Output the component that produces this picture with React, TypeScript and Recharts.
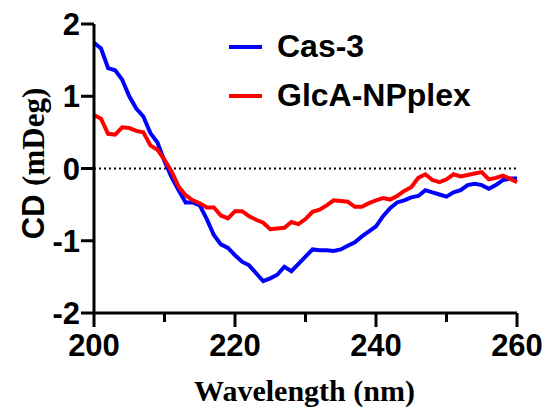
import React from 'react';
import {
  LineChart, Line, XAxis, YAxis, Legend, ReferenceLine, Label,
} from 'recharts';

const wavelengths = [
  200, 201, 202, 203, 204, 205, 206, 207, 208, 209,
  210, 211, 212, 213, 214, 215, 216, 217, 218, 219,
  220, 221, 222, 223, 224, 225, 226, 227, 228, 229,
  230, 231, 232, 233, 234, 235, 236, 237, 238, 239,
  240, 241, 242, 243, 244, 245, 246, 247, 248, 249,
  250, 251, 252, 253, 254, 255, 256, 257, 258, 259, 260,
];

const cas3 = [
  1.74, 1.66, 1.39, 1.36, 1.23, 1.0, 0.83, 0.72, 0.49, 0.36,
  0.1, -0.12, -0.3, -0.47, -0.47, -0.51, -0.7, -0.92, -1.05, -1.1,
  -1.2, -1.29, -1.34, -1.45, -1.56, -1.52, -1.47, -1.36, -1.42, -1.32,
  -1.22, -1.12, -1.13, -1.13, -1.14, -1.12, -1.07, -1.02, -0.94, -0.87,
  -0.8, -0.66, -0.55, -0.47, -0.44, -0.4, -0.38, -0.3, -0.33, -0.36,
  -0.39, -0.33, -0.3, -0.23, -0.21, -0.23, -0.28, -0.23, -0.16, -0.14, -0.14,
];

const glcaNPplex = [
  0.74, 0.69, 0.48, 0.47, 0.57, 0.56, 0.52, 0.5, 0.32, 0.26,
  0.12, -0.04, -0.25, -0.37, -0.44, -0.48, -0.54, -0.54, -0.65, -0.69,
  -0.59, -0.59, -0.66, -0.71, -0.75, -0.84, -0.83, -0.82, -0.74, -0.77,
  -0.7, -0.6, -0.57, -0.51, -0.44, -0.45, -0.46, -0.53, -0.53, -0.48,
  -0.44, -0.41, -0.43, -0.38, -0.31, -0.26, -0.13, -0.08, -0.16, -0.19,
  -0.15, -0.08, -0.11, -0.09, -0.07, -0.05, -0.15, -0.13, -0.1, -0.14, -0.19,
];

const xTicks = [200, 210, 220, 230, 240, 250, 260];
const yTicks = [-2, -1, 0, 1, 2];

const series = [
  { key: 'cas', name: 'Cas-3', color: '#0000FF' },
  { key: 'glca', name: 'GlcA-NPplex', color: '#FF0000' },
];

const data = wavelengths.map((w, i) => ({ w, cas: cas3[i], glca: glcaNPplex[i] }));

const sans = '"Liberation Sans", Arial, sans-serif';
const serif = '"Liberation Serif", "Times New Roman", serif';

const XTick = (props: any) => {
  const { x, y, payload } = props;
  const major = payload.value % 20 === 0;
  return (
    <g>
      <line x1={x} x2={x} y1={y} y2={y + (major ? 14 : 9)} stroke="#000" strokeWidth={3} />
      {major && (
        <text x={x} y={y + 43} textAnchor="middle" fontFamily={sans} fontWeight="bold" fontSize={31} fill="#000">
          {payload.value}
        </text>
      )}
    </g>
  );
};

const YTick = (props: any) => {
  const { x, y, payload } = props;
  return (
    <g>
      <line x1={x - 13} x2={x} y1={y} y2={y} stroke="#000" strokeWidth={3} />
      <text x={x - 14} y={y} dy="0.36em" textAnchor="end" fontFamily={sans} fontWeight="bold" fontSize={31} fill="#000">
        {payload.value}
      </text>
    </g>
  );
};

const renderLegend = () => (
  <div>
    {series.map((s) => (
      <div key={s.key} style={{ display: 'flex', alignItems: 'center', height: 49 }}>
        <span style={{ display: 'inline-block', width: 33, height: 4, background: s.color, marginRight: 15 }} />
        <span style={{ fontFamily: sans, fontWeight: 'bold', fontSize: 32, color: '#000' }}>{s.name}</span>
      </div>
    ))}
  </div>
);

export default function App() {
  return (
    <div style={{ position: 'absolute', left: 0, top: 0, background: '#fff' }}>
      <LineChart width={551} height={416} data={data} margin={{ top: 24, right: 34, left: 0, bottom: 0 }}>
        <XAxis
          dataKey="w"
          type="number"
          domain={[200, 260]}
          ticks={xTicks}
          height={103}
          tickSize={0}
          tickMargin={0}
          tickLine={false}
          tick={<XTick />}
          axisLine={{ stroke: '#000', strokeWidth: 3 }}
        >
          <Label
            content={(p: any) => (
              <text
                x={p.viewBox.x + p.viewBox.width / 2 - 1}
                y={p.viewBox.y + 88}
                textAnchor="middle"
                fontFamily={serif}
                fontWeight="bold"
                fontSize={30}
                fill="#000"
              >
                Wavelength (nm)
              </text>
            )}
          />
        </XAxis>
        <YAxis
          type="number"
          domain={[-2, 2]}
          ticks={yTicks}
          width={94}
          tickSize={0}
          tickMargin={0}
          tickLine={false}
          tick={<YTick />}
          axisLine={{ stroke: '#000', strokeWidth: 3 }}
        >
          <Label
            content={(p: any) => {
              const cx = p.viewBox.x + 33;
              const cy = p.viewBox.y + p.viewBox.height / 2 - 5;
              return (
                <text
                  x={cx}
                  y={cy}
                  transform={`rotate(-90 ${cx} ${cy})`}
                  textAnchor="middle"
                  dy="0.36em"
                  fontWeight="bold"
                  fontSize={31}
                  fill="#000"
                >
                  <tspan fontFamily={sans}>CD </tspan>
                  <tspan fontFamily={serif}>(mDeg)</tspan>
                </text>
              );
            }}
          />
        </YAxis>
        <ReferenceLine y={0} stroke="#000" strokeWidth={2} strokeDasharray="2 3" />
        <Legend
          layout="horizontal"
          verticalAlign="middle"
          align="center"
          content={renderLegend}
          wrapperStyle={{ left: 229, top: 22, width: 'auto', height: 'auto' }}
        />
        {series.map((s) => (
          <Line
            key={s.key}
            type="linear"
            dataKey={s.key}
            name={s.name}
            stroke={s.color}
            strokeWidth={4}
            dot={false}
            isAnimationActive={false}
          />
        ))}
      </LineChart>
    </div>
  );
}
